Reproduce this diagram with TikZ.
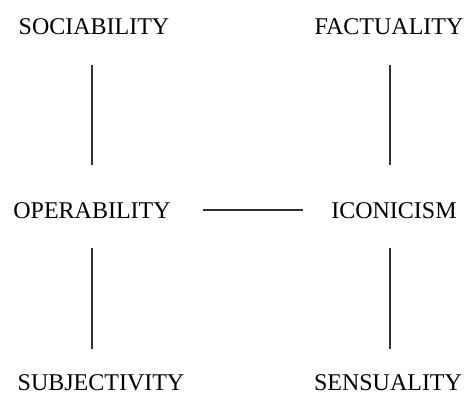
\documentclass[tikz,border=0pt]{standalone}
\usepackage{fontspec}
\setmainfont{Liberation Serif}
\begin{document}
\begin{tikzpicture}[x=1pt,y=1pt,
  lbl/.style={anchor=base,inner sep=0pt,font=\fontsize{24}{28}\selectfont},
  link/.style={line width=1.4pt,black!80}]
\useasboundingbox (0,0) rectangle (471,392);

% Labels
\node[lbl] (soc) at (94,357) {SOCIABILITY};
\node[lbl] (fac) at (389,357) {FACTUALITY};
\node[lbl] (ope) at (92,174) {OPERABILITY};
\node[lbl] (ico) at (394,174) {ICONICISM};
\node[lbl] (sub) at (101,2) {SUBJECTIVITY};
\node[lbl] (sen) at (388,2) {SENSUALITY};

% Vertical lines
\draw[link,shorten <=30pt,shorten >=37pt] (ope.north |- soc.south) -- (ope.north);
\draw[link,shorten <=30pt,shorten >=25pt] (ope.south) -- (ope.south |- sub.north);
\draw[link,shorten <=30pt,shorten >=37pt] (fac.south) ++(1,0) coordinate (fr) -- (fr |- ico.north);
\draw[link,shorten <=30pt,shorten >=25pt] (fr |- ico.south) -- (fr |- sen.north);

% Horizontal line
\draw[link,shorten <=32pt,shorten >=28pt] (ope.east) -- (ico.west);
\end{tikzpicture}
\end{document}
